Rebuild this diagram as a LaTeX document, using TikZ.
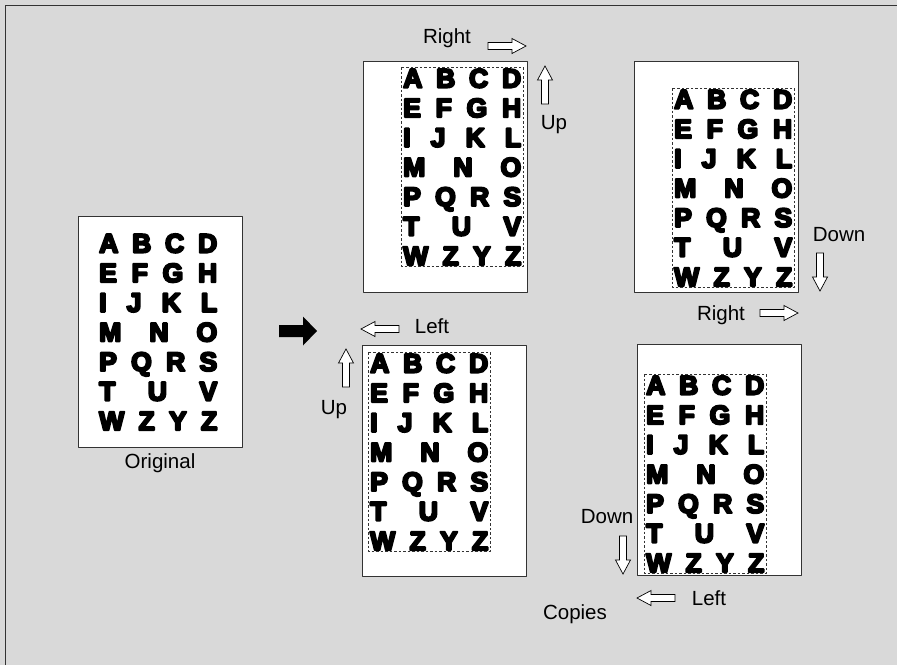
\documentclass[tikz,border=0pt]{standalone}
\usepackage{fontspec}
\setmainfont{Liberation Sans}
\newfontfamily\blk{Liberation Sans Bold}[FakeBold=8]
\definecolor{bg}{HTML}{D9D9D9}
\definecolor{edge}{HTML}{333333}
\tikzset{
  page/.style={draw=edge, fill=white, line width=0.9pt, minimum width=164pt, minimum height=231pt, inner sep=0pt},
  row/.style={anchor=base west, inner sep=0pt, text width=118pt, align=left, font=\blk\fontsize{26.5}{26.5}\selectfont},
  dbox/.style={draw=edge, line width=0.6pt, dash pattern=on 2.5pt off 2pt},
  lbl/.style={inner sep=0pt, font=\fontsize{20.5}{20.5}\selectfont},
  hollow/.pic={\draw[fill=white, line width=0.7pt, line join=miter] (0,-3.5)--(24,-3.5)--(24,-7.5)--(38,0)--(24,7.5)--(24,3.5)--(0,3.5)--cycle;},
  solidarrow/.pic={\fill[black] (0,-6)--(24,-6)--(24,-14.5)--(38,0)--(24,14.5)--(24,6)--(0,6)--cycle;}
}
\newcommand\alphablock[3]{%
  \begin{scope}[line join=round]
  \node[row] (#1a) at ({#2+1},{#3+19.5}) {A\hfill B\hfill C\hfill D};
  \node[row] (#1b) at ({#2+1},{#3+49.1}) {E\hfill F\hfill G\hfill H};
  \node[row] (#1c) at ({#2+1},{#3+78.7}) {I\hfill J\hfill K\hfill L};
  \node[row] (#1d) at ({#2+1},{#3+108.3}) {M\hfill N\hfill O};
  \node[row] (#1e) at ({#2+1},{#3+137.9}) {P\hfill Q\hfill R\hfill S};
  \node[row] (#1f) at ({#2+1},{#3+167.5}) {T\hfill U\hfill V};
  \node[row] (#1g) at ({#2+1},{#3+197.1}) {W\hfill Z\hfill Y\hfill Z};
  \end{scope}
}
\newcommand\dashedframe[3]{%
  \draw[dbox] ({#2-1},{#3-1}) rectangle ({#2+121},{#3+198});
}
\begin{document}
\begin{tikzpicture}[x=1pt, y=-1pt, line join=round]
  \fill[bg] (0,0) rectangle (897,665);
  \useasboundingbox (0,0) rectangle (897,665);
  \draw[edge, line width=1.5pt] (5.5,665) -- (5.5,5.5) -- (897,5.5);

  % original
  \node[page] (orig) at (160,332) {};
  \alphablock{o}{98}{233}
  \node[lbl] (origlbl) at (160,463) {Original};

  % big arrow
  \pic at (279,331) {solidarrow};

  % copy 1 (top middle)
  \node[page] (p1) at (445,177) {};
  \alphablock{a}{402}{68}
  \dashedframe{a}{402}{68}
  \node[lbl] (p1right) at (447,38) {Right};
  \pic at (488,46) {hollow};
  \pic[rotate=90] at (545,104) {hollow};
  \node[lbl] (p1up) at (554,125) {Up};

  % copy 2 (top right)
  \node[page] (p2) at (716.5,176.5) {};
  \alphablock{b}{673}{89}
  \dashedframe{b}{673}{89}
  \node[lbl] (p2down) at (839,235) {Down};
  \pic[rotate=-90] at (820,253) {hollow};
  \node[lbl] (p2right) at (721,315) {Right};
  \pic at (760,313) {hollow};

  % copy 3 (bottom middle)
  \node[page] (p3) at (444.5,460.5) {};
  \alphablock{c}{369}{353}
  \dashedframe{c}{369}{353}
  \node[lbl] (p3left) at (432,326) {Left};
  \pic[rotate=180] at (399,329) {hollow};
  \pic[rotate=90] at (346,387) {hollow};
  \node[lbl] (p3up) at (334,410) {Up};

  % copy 4 (bottom right)
  \node[page] (p4) at (719.5,460) {};
  \alphablock{d}{645}{375}
  \dashedframe{d}{645}{375}
  \node[lbl] (p4down) at (607,517) {Down};
  \pic[rotate=-90] at (623,536) {hollow};
  \pic[rotate=180] at (675,598) {hollow};
  \node[lbl] (p4left) at (709,598) {Left};
  \node[lbl] (copies) at (575,614) {Copies};
\end{tikzpicture}
\end{document}
